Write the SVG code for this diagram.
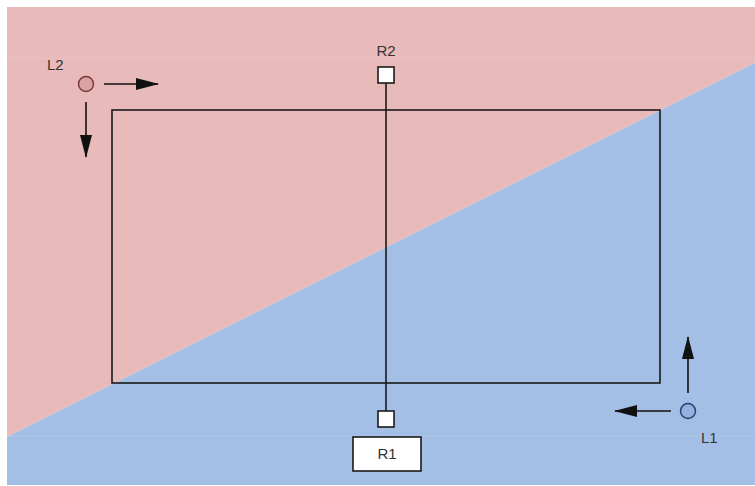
<svg xmlns="http://www.w3.org/2000/svg" width="755" height="486" viewBox="0 0 755 486">
<style>
.lbl{font-family:"Liberation Sans",Arial,sans-serif;font-size:15px;fill:#333;}
.wire{stroke:#1a1a1a;stroke-width:1.6;fill:none;}
.arr{stroke:#111;stroke-width:1.6;fill:none;}
.sq{fill:#fff;stroke:#1a1a1a;stroke-width:1.6;}
</style>
<defs>
<marker id="ah" markerWidth="24" markerHeight="14" refX="22" refY="7" orient="auto" markerUnits="userSpaceOnUse">
<path d="M0,1 L23,7 L0,13 Z" fill="#111"/>
</marker>
</defs>
<rect width="755" height="486" fill="#fff"/>
<g id="background">
<polygon points="7,7 755,7 755,63 7,437" fill="#e8bab9"/>
<polygon points="7,437 755,63 755,485 7,485" fill="#a3bfe6"/>
<line x1="7" y1="58" x2="755" y2="58" stroke="#fff" stroke-opacity="0.12"/>
<line x1="7" y1="436" x2="755" y2="436" stroke="#fff" stroke-opacity="0.15"/>
</g>
<g id="area">
<rect x="112" y="110" width="548" height="273" class="wire"/>
</g>
<g id="connectors">
<line x1="386" y1="83" x2="386" y2="411" class="wire"/>
<line x1="104" y1="84" x2="158" y2="84" class="arr" marker-end="url(#ah)"/>
<line x1="86" y1="102" x2="86" y2="157" class="arr" marker-end="url(#ah)"/>
<line x1="688" y1="393" x2="688" y2="337" class="arr" marker-end="url(#ah)"/>
<line x1="671" y1="411" x2="615" y2="411" class="arr" marker-end="url(#ah)"/>
</g>
<g id="R2">
<rect x="378" y="67" width="16" height="16" class="sq"/>
<text x="386" y="56" class="lbl" text-anchor="middle">R2</text>
</g>
<g id="R1sensor">
<rect x="378" y="411" width="16" height="16" class="sq"/>
</g>
<g id="R1">
<rect x="353" y="437" width="68" height="34" class="sq"/>
<text x="387" y="459" class="lbl" text-anchor="middle">R1</text>
</g>
<g id="L2">
<circle cx="86" cy="84" r="7.5" fill="#dba2a3" stroke="#7a3a3a" stroke-width="1.5"/>
<text x="47" y="70" class="lbl">L2</text>
</g>
<g id="L1">
<circle cx="688" cy="411" r="7.5" fill="#93b1e0" stroke="#2a3f6e" stroke-width="1.5"/>
<text x="701" y="443" class="lbl">L1</text>
</g>
</svg>
